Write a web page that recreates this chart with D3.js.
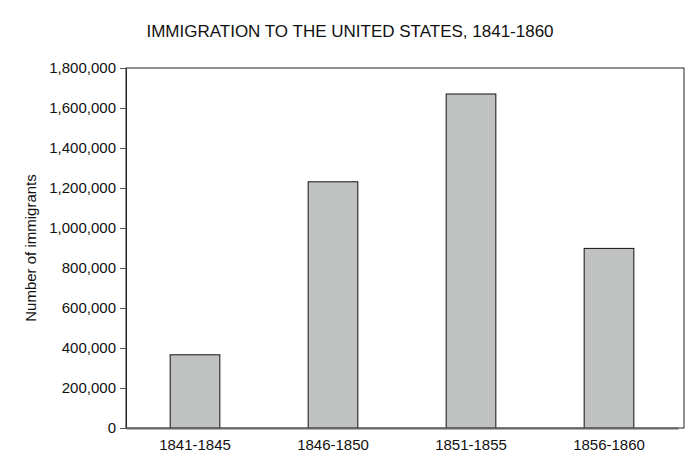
<!DOCTYPE html>
<html>
<head>
<meta charset="utf-8">
<script src="https://cdn.jsdelivr.net/npm/d3@7"></script>
<style>
body { margin: 0; background: #fff; }
text { font-family: Arial, "Liberation Sans", sans-serif; fill: #111; }
</style>
</head>
<body>
<svg></svg>
<script>
const periods = ['1841-1845', '1846-1850', '1851-1855', '1856-1860'];
const immigrants = [366000, 1231000, 1670000, 898000];
const yTicks = [0, 200000, 400000, 600000, 800000, 1000000, 1200000, 1400000, 1600000, 1800000];

const width = 700, height = 476;
const m = { top: 68, right: 16, bottom: 48, left: 126 };

const svg = d3.select('svg').attr('width', width).attr('height', height);

const x = d3.scaleBand().domain(periods).range([m.left, width - m.right - 6]).paddingInner(0.64).paddingOuter(0.32);
const y = d3.scaleLinear().domain([0, 1800000]).range([height - m.bottom, m.top]);

// plot frame
svg.append('rect')
    .attr('x', m.left).attr('y', m.top)
    .attr('width', width - m.right - m.left).attr('height', height - m.bottom - m.top)
    .attr('fill', 'none').attr('stroke', '#222').attr('stroke-width', 1);

svg.selectAll('.bar')
    .data(immigrants)
    .enter().append('rect')
    .attr('class', 'bar')
    .attr('x', (d, i) => x(periods[i]))
    .attr('y', d => y(d))
    .attr('width', x.bandwidth())
    .attr('height', d => y(0) - y(d))
    .attr('fill', '#c0c1c1')
    .attr('stroke', '#111')
    .attr('stroke-width', 1);

const yAxis = svg.append('g')
    .attr('transform', `translate(${m.left},0)`)
    .call(d3.axisLeft(y).tickValues(yTicks).tickSize(6).tickSizeOuter(0).tickFormat(d3.format(',')));
yAxis.attr('font-size', 15);
yAxis.select('.domain').attr('stroke', '#222');
yAxis.selectAll('.tick line').attr('stroke', '#555');
yAxis.selectAll('text').style('font-size', '15px').attr('dx', '-1');

const xAxis = svg.append('g')
    .attr('transform', `translate(0,${height - m.bottom})`)
    .call(d3.axisBottom(x).tickSize(0));
xAxis.select('.domain').attr('stroke', '#666').attr('stroke-width', 2);
xAxis.selectAll('text').style('font-size', '15px').attr('dy', '1.25em');

svg.append('text')
    .attr('x', 350).attr('y', 37)
    .attr('text-anchor', 'middle')
    .style('font-size', '17px')
    .text('IMMIGRATION TO THE UNITED STATES, 1841-1860');

svg.append('text')
    .attr('transform', `translate(36,${(m.top + height - m.bottom) / 2}) rotate(-90)`)
    .attr('text-anchor', 'middle')
    .style('font-size', '15px')
    .text('Number of immigrants');
</script>
</body>
</html>
